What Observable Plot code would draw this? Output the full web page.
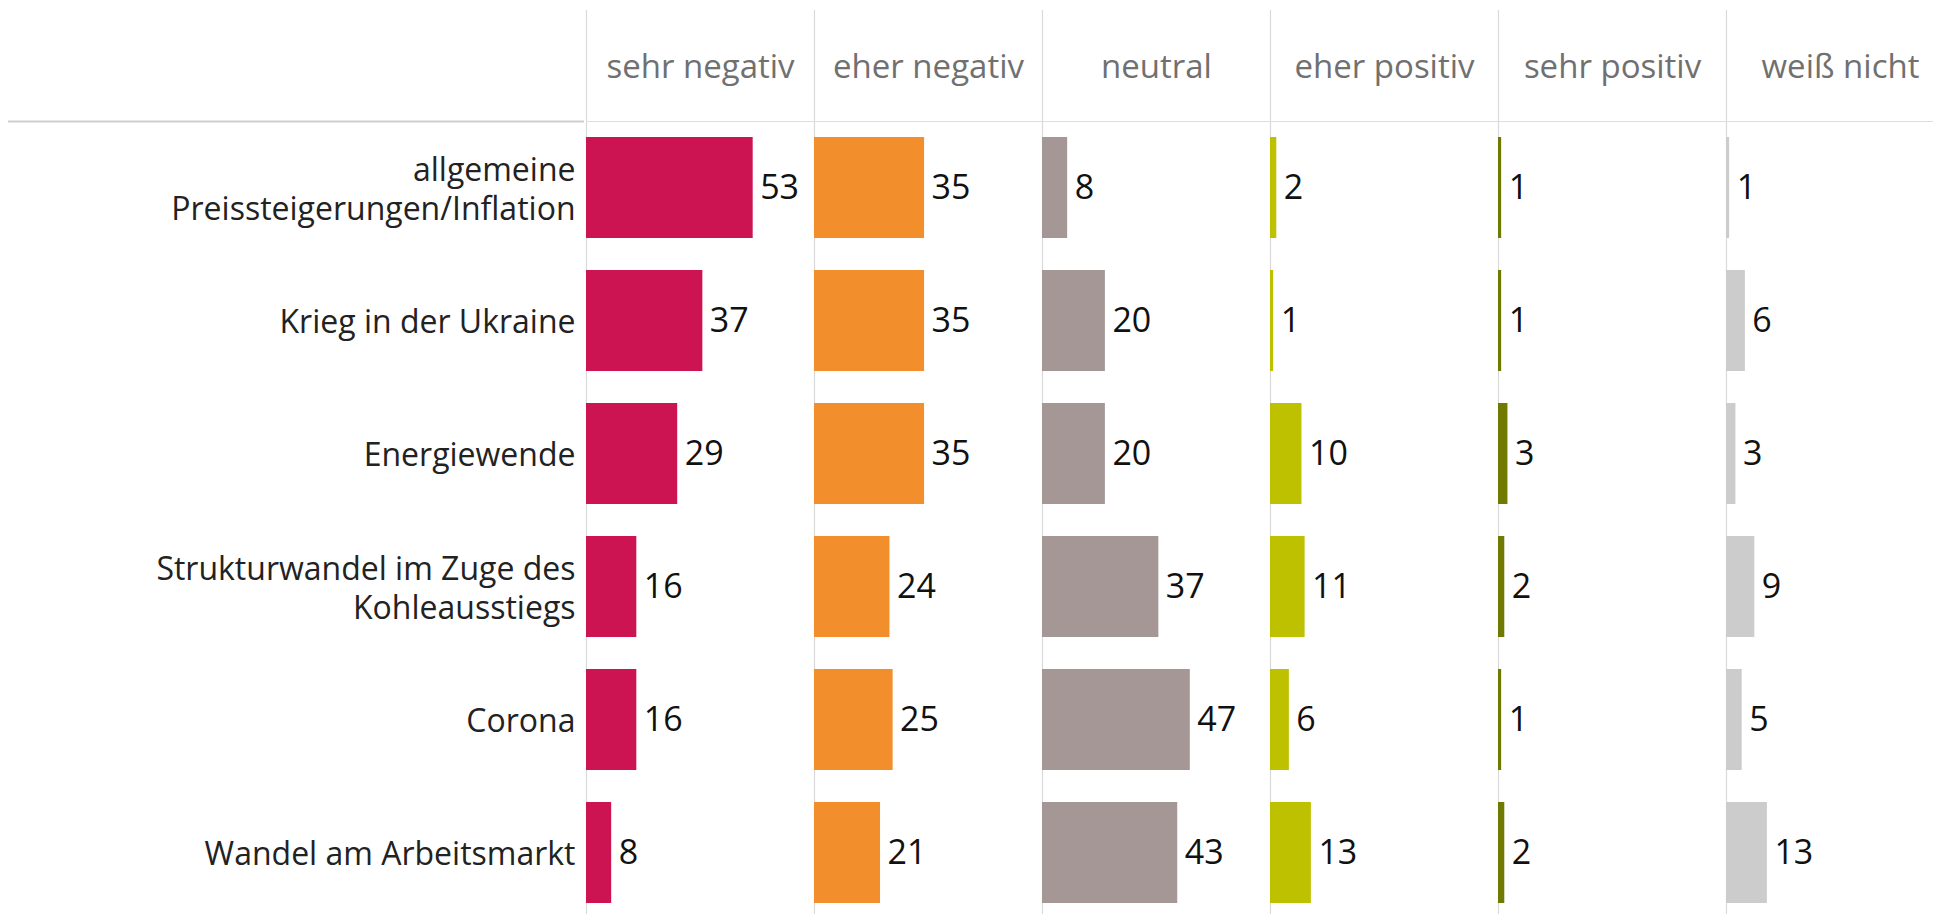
<!DOCTYPE html>
<html>
<head>
<meta charset="utf-8">
<script src="https://cdn.jsdelivr.net/npm/d3@7"></script>
<script src="https://cdn.jsdelivr.net/npm/@observablehq/plot@0.6"></script>
<style>
  html, body { margin: 0; padding: 0; background: #fff; overflow: hidden; }
  #chart svg { display: block; }
</style>
</head>
<body>
<div id="chart"></div>
<script>
const topics = [
  "allgemeine Preissteigerungen/Inflation",
  "Krieg in der Ukraine",
  "Energiewende",
  "Strukturwandel im Zuge des Kohleausstiegs",
  "Corona",
  "Wandel am Arbeitsmarkt"
];
const topicLabels = [
  "allgemeine\nPreissteigerungen/Inflation",
  "Krieg in der Ukraine",
  "Energiewende",
  "Strukturwandel im Zuge des\nKohleausstiegs",
  "Corona",
  "Wandel am Arbeitsmarkt"
];
const categories = ["sehr negativ", "eher negativ", "neutral", "eher positiv", "sehr positiv", "weiß nicht"];
const sehrNegativ = [53, 37, 29, 16, 16, 8];
const eherNegativ = [35, 35, 35, 24, 25, 21];
const neutral     = [8, 20, 20, 37, 47, 43];
const eherPositiv = [2, 1, 10, 11, 6, 13];
const sehrPositiv = [1, 1, 3, 2, 1, 2];
const weissNicht  = [1, 6, 3, 9, 5, 13];
const colors = ["#cc1452", "#f28e2b", "#a69797", "#bdc100", "#707a00", "#cccccc"];

const series = [sehrNegativ, eherNegativ, neutral, eherPositiv, sehrPositiv, weissNicht];
const data = [];
categories.forEach((c, ci) => topics.forEach((t, ti) => data.push({cat: c, topic: t, value: series[ci][ti]})));
const labelData = topics.map((t, i) => ({cat: categories[0], topic: t, label: topicLabels[i]}));

const W = 1933, H = 914;
const mTop = 121, mLeft = 586, mRight = -21, mBottom = -5;
const step = (H - mTop - mBottom) / topics.length;
const font = "'Open Sans', sans-serif";

const chart = Plot.plot({
  width: W,
  height: H,
  marginTop: mTop,
  marginLeft: mLeft,
  marginRight: mRight,
  marginBottom: mBottom,
  style: {fontFamily: font, background: "#fff", overflow: "visible"},
  fx: {domain: categories, padding: 0, label: null, axis: null},
  y: {domain: topics, paddingInner: 0.24, paddingOuter: 0.12, align: 0.5, label: null, axis: null},
  x: {domain: [0, 72.5], axis: null},
  color: {domain: categories, range: colors},
  marks: [
    Plot.ruleX([0], {stroke: "#d9d9d9", strokeWidth: 1.2, insetTop: -(mTop - 10)}),
    Plot.ruleY([topics[0]], {dy: -step / 2, stroke: "#dddddd", strokeWidth: 1}),
    Plot.ruleY([{c: categories[0], t: topics[0]}], {fx: "c", y: "t", dy: -step / 2, stroke: "#cfcfcf", strokeWidth: 2, insetLeft: -(mLeft - 8), insetRight: 230}),
    Plot.barX(data, {fx: "cat", y: "topic", x: "value", fill: "cat"}),
    Plot.text(data, {fx: "cat", y: "topic", x: "value", text: d => String(d.value), dx: 7, textAnchor: "start", fontSize: 34, fill: "#111"}),
    Plot.text(labelData, {fx: "cat", y: "topic", text: "label", frameAnchor: "left", dx: -11, textAnchor: "end", fontSize: 32, lineHeight: 1.2, fill: "#222"}),
    Plot.axisFx({anchor: "top", tickSize: 0, tickPadding: 44, fontSize: 33, fill: "#707070", label: null, fontFamily: font})
  ]
});
document.getElementById("chart").appendChild(chart);
</script>
</body>
</html>
